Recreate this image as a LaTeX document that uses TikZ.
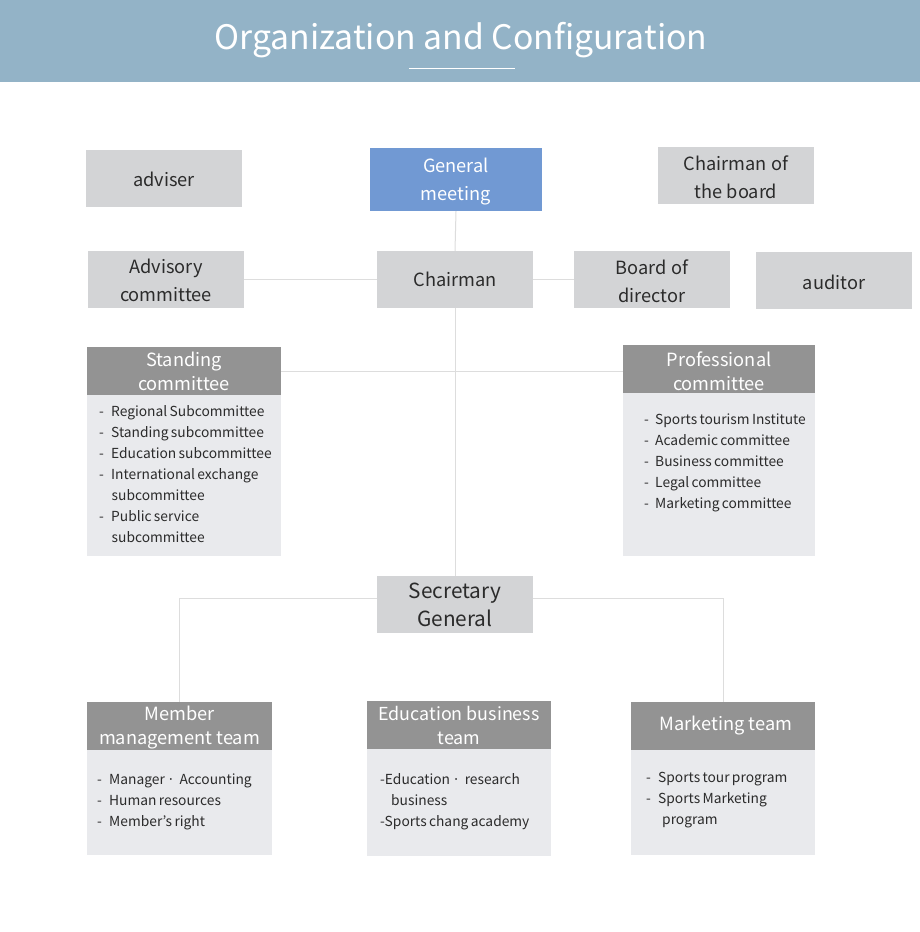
\documentclass[tikz,border=0pt]{standalone}
\usepackage{fontspec}
\setmainfont{Noto Sans CJK KR}
\definecolor{band}{HTML}{93B3C7}
\definecolor{gbox}{HTML}{D3D4D6}
\definecolor{bluebox}{HTML}{7199D3}
\definecolor{darkhead}{HTML}{939393}
\definecolor{bodybg}{HTML}{E9EAED}
\definecolor{linec}{HTML}{DDDDDD}
\definecolor{txt}{HTML}{2B2B2B}
\newcommand\itemfnt{\fontsize{13.8}{17}\selectfont\spaceskip=0.17em plus 0.05em\relax}
\tikzset{
  plainbox/.style={rectangle, fill=gbox, inner sep=0pt, minimum width=156pt, minimum height=57pt},
  bluebx/.style={plainbox, fill=bluebox},
  btext/.style={inner sep=0pt, align=center, text=txt, font=\fontsize{18.2}{28}\selectfont},
  wtext/.style={btext, text=white},
  headbox/.style={rectangle, fill=darkhead, inner sep=0pt, minimum height=48pt},
  htext/.style={inner sep=0pt, align=center, text=white, font=\fontsize{18.2}{24}\selectfont},
  bodybox/.style={rectangle, fill=bodybg, inner sep=0pt, anchor=north},
  item/.style={anchor=base west, inner sep=0pt, text=txt, font=\itemfnt},
  conn/.style={draw=linec, line width=1pt},
}
\begin{document}
\begin{tikzpicture}[x=1pt,y=-1pt]
\useasboundingbox (0,0) rectangle (920,932);
\fill[white] (0,0) rectangle (920,932);
% header band
\fill[band] (0,0) rectangle (920,82);
\node[text=white, font=\fontsize{33.7}{40}\selectfont, inner sep=0pt] (title) at (461,40) {Organization and Configuration};
\coordinate (ulA) at (409,68);
\coordinate (ulB) at (515,68);
\draw[white, line width=1pt] (ulA) -- (ulB);

% top boxes
\node[plainbox] (adviser) at (164,178.5) {};
\node[btext] (adviserT) at ([yshift=-1pt]adviser.center) {adviser};
\node[bluebx, minimum width=172pt, minimum height=63pt] (gm) at (456,179.5) {};
\node[wtext] (gmT) at ([yshift=-2.5pt]gm.center) {General\\meeting};
\node[plainbox] (cotb) at (736,175.5) {};
\node[btext] (cotbT) at ([yshift=-2pt]cotb.center) {Chairman of\\the board};
\node[plainbox] (advc) at (166,279.5) {};
\node[btext] (advcT) at ([yshift=-1pt]advc.center) {Advisory\\committee};
\node[plainbox] (chair) at (455,279.5) {};
\node[btext] (chairT) at (chair.center) {Chairman};
\node[plainbox] (bod) at (652,279.5) {};
\node[btext] (bodT) at ([yshift=-2pt]bod.center) {Board of\\director};
\node[plainbox] (aud) at (834,280.5) {};
\node[btext] (audT) at ([yshift=-2pt]aud.center) {auditor};

% standing committee
\node[headbox, minimum width=194pt] (sthead) at (184,371) {};
\node[htext] (stheadT) at (sthead.center) {Standing\\committee};
\node[bodybox, minimum width=194pt, minimum height=161pt] (stbody) at (184,395) {};
% professional committee
\node[headbox, minimum width=192pt] (prhead) at (719,369) {};
\node[htext] (prheadT) at ([yshift=-2pt]prhead.center) {Professional\\committee};
\node[bodybox, minimum width=192pt, minimum height=163pt] (prbody) at (719,393) {};

% secretary general
\node[plainbox] (sec) at (455,604.5) {};
\node[btext, font=\fontsize{20.8}{28}\selectfont] (secT) at (sec.center) {Secretary\\General};

% bottom teams
\node[headbox, minimum width=185pt] (mhead) at (179.5,726) {};
\node[htext] (mheadT) at ([yshift=-2pt]mhead.center) {Member\\management team};
\node[bodybox, minimum width=185pt, minimum height=105pt] (mbody) at (179.5,750) {};
\node[headbox, minimum width=184pt] (ehead) at (459,725) {};
\node[htext, font=\fontsize{17.9}{24}\selectfont] (eheadT) at (ehead.center) {Education business\\team};
\node[bodybox, minimum width=184pt, minimum height=107pt] (ebody) at (459,749) {};
\node[headbox, minimum width=184pt] (khead) at (723,726) {};
\node[htext] (kheadT) at ([xshift=3pt]khead.center) {Marketing team};
\node[bodybox, minimum width=184pt, minimum height=105pt] (kbody) at (723,750) {};

% connectors
\draw[conn] (gm.south) -- (chair.north);
\draw[conn] (advc.east) -- (chair.west);
\draw[conn] (chair.east) -- (bod.west);
\draw[conn] (sthead.east) -- (sthead.east -| prhead.west);
\draw[conn] (chair.south) -- (sec.north);
\draw[conn] ([yshift=6.5pt]sec.west) -| (mhead.north);
\draw[conn] ([yshift=6.5pt]sec.east) -| (khead.north);

% standing committee items
\node[item] (s1d) at (99,416) {-};
\node[item] (s1) at (111,416) {Regional Subcommittee};
\node[item] (s2d) at (99,437) {-};
\node[item] (s2) at (111,437) {Standing subcommittee};
\node[item] (s3d) at (99,458) {-};
\node[item] (s3) at (111,458) {Education subcommittee};
\node[item] (s4d) at (99,479) {-};
\node[item] (s4) at (111,479) {International exchange};
\node[item] (s4b) at (111.5,500) {subcommittee};
\node[item] (s5d) at (99,521) {-};
\node[item] (s5) at (111,521) {Public service};
\node[item] (s5b) at (111.5,542) {subcommittee};

% professional committee items
\node[item] (p1d) at (644,424) {-};
\node[item] (p1) at (655,424) {Sports tourism Institute};
\node[item] (p2d) at (644,445) {-};
\node[item] (p2) at (655,445) {Academic committee};
\node[item] (p3d) at (644,466) {-};
\node[item] (p3) at (655,466) {Business committee};
\node[item] (p4d) at (644,487) {-};
\node[item] (p4) at (655,487) {Legal committee};
\node[item] (p5d) at (644,508) {-};
\node[item] (p5) at (655,508) {Marketing committee};

% member management items
\node[item] (m1d) at (97,784) {-};
\node[item] (m1) at (109,784) {Manager\,·\,\,Accounting};
\node[item] (m2d) at (97,805) {-};
\node[item] (m2) at (109,805) {Human resources};
\node[item] (m3d) at (97,826) {-};
\node[item] (m3) at (109,826) {Member’s right};

% education business items
\node[item] (e1) at (380,784) {-Education\,·\,\,research};
\node[item] (e1b) at (391,805) {business};
\node[item] (e2) at (380,826) {-Sports chang academy};

% marketing items
\node[item] (k1d) at (646,782) {-};
\node[item] (k1) at (658,782) {Sports tour program};
\node[item] (k2d) at (646,803) {-};
\node[item] (k2) at (658,803) {Sports Marketing};
\node[item] (k2b) at (662,824) {program};
\end{tikzpicture}
\end{document}
